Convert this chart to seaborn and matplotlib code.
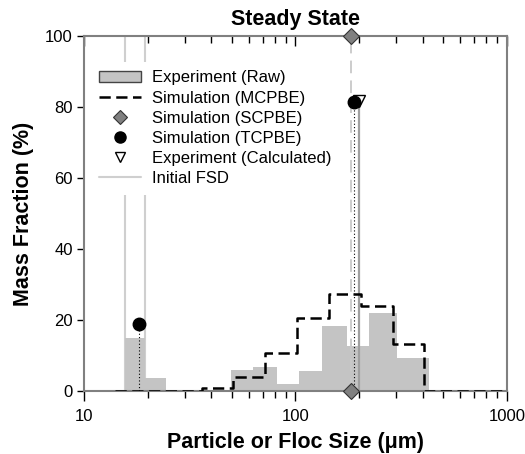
import numpy as np
import matplotlib
matplotlib.use('Agg')
import matplotlib.pyplot as plt
from matplotlib.patches import Patch
from matplotlib.lines import Line2D
import seaborn as sns

# Experiment (Raw) histogram: bin edges (um) and mass fraction (%)
raw_edges = [15.6, 19.4, 24.4, 30.8, 38.8, 49.4, 63.2, 81.5, 104, 134, 174.5, 223, 303, 429, 690]
raw_values = [14.9, 3.6, 0, 0, 0, 5.9, 6.7, 2.0, 5.6, 18.4, 12.7, 22.1, 9.4, 0.3]

# Simulation (MCPBE) step line
mc_edges = [14, 36, 50.9, 72, 101.8, 144, 203.6, 288, 407, 1000]
mc_values = [0.1, 0.9, 3.9, 10.8, 20.6, 27.2, 23.9, 13.2, 0.0]

# Simulation (SCPBE): single class
sc_size = [182]
sc_value = [100]

# Simulation (TCPBE): two classes
tc_size = [18.2, 189]
tc_value = [18.8, 81.5]

# Experiment (Calculated)
calc_size = [200]
calc_value = [81.7]

# Initial FSD: one bin
init_edges = [15.6, 19.4]
init_value = 100

sns.set_style('ticks')
plt.rcParams['font.family'] = ['Liberation Sans', 'DejaVu Sans']
plt.rcParams['text.color'] = 'black'
plt.rcParams['axes.labelcolor'] = 'black'
plt.rcParams['xtick.color'] = 'black'
plt.rcParams['ytick.color'] = 'black'

fig = plt.figure(figsize=(5.25, 4.54), dpi=100)
ax = fig.add_axes([0.16, 0.1388, 0.8057, 0.782])
ax.set_xscale('log')

# initial FSD outline
ax.vlines(init_edges, 0, init_value, color='#cfcfcf', lw=1.5, zorder=1)

# raw bars
left = np.array(raw_edges[:-1])
widths = np.diff(raw_edges)
ax.bar(left, raw_values, width=widths, align='edge', color='#c4c4c4',
       edgecolor='none', lw=0, zorder=2)

# stems
ax.vlines(sc_size, 0, sc_value, color='#c8c8c8', lw=1.3,
          linestyles=(0, (7, 4)), zorder=3)
ax.vlines(calc_size, 0, calc_value, color='#a0a0a0', lw=1.6, zorder=3)
ax.vlines(tc_size, 0, tc_value, color='black', lw=0.8,
          linestyles=(0, (1, 2)), zorder=3)

# MCPBE step line
sns.lineplot(x=mc_edges, y=mc_values + [mc_values[-1]], drawstyle='steps-post',
             color='black', lw=1.8, dashes=False, ax=ax, zorder=4,
             estimator=None, sort=False)
ax.lines[-1].set_linestyle((0, (4.5, 2.2)))

# markers
ax.plot(calc_size, calc_value, 'v', ms=8, mfc='white', mec='black', mew=1.0,
        zorder=5, clip_on=False)
ax.plot(tc_size, tc_value, 'o', ms=9, color='black', zorder=6, clip_on=False)
ax.plot(sc_size * 2, [0, sc_value[0]], 'D', ms=8, mfc='#808080', mec='#333333',
        mew=0.8, zorder=7, clip_on=False)

ax.set_xlim(10, 1000)
ax.set_ylim(0, 100)
ax.set_yticks([0, 20, 40, 60, 80, 100])
ax.set_xticks([10, 100, 1000])
ax.set_xticklabels(['10', '100', '1000'])

for s in ax.spines.values():
    s.set_color('#808080')
    s.set_linewidth(1.5)

ax.tick_params(axis='y', which='both', direction='out', length=5, width=1,
               labelsize=12, right=False, pad=3)
ax.tick_params(axis='x', which='major', direction='out', length=7, width=1,
               labelsize=12, pad=6)
ax.tick_params(axis='x', which='minor', direction='out', length=5, width=1)
# top ticks inward
sec = ax.secondary_xaxis('top')
sec.set_xticks([10, 100, 1000])
sec.tick_params(axis='x', which='major', direction='in', length=7, width=1,
                labeltop=False)
sec.tick_params(axis='x', which='minor', direction='in', length=5, width=1)
sec.spines['top'].set_visible(False)
sec.set_xticklabels([])

ax.set_title('Steady State', fontsize=15.5, fontweight='bold', pad=8)
ax.set_xlabel('Particle or Floc Size (μm)', fontsize=15.5, fontweight='bold', labelpad=6)
ax.set_ylabel('Mass Fraction (%)', fontsize=15.5, fontweight='bold', labelpad=8)

handles = [
    Patch(facecolor='#c4c4c4', edgecolor='#444444', lw=1),
    Line2D([], [], color='black', lw=1.8, ls=(0, (4.5, 2.2))),
    Line2D([], [], ls='none', marker='D', ms=7, mfc='#808080', mec='#333333', mew=0.8),
    Line2D([], [], ls='none', marker='o', ms=8, color='black'),
    Line2D([], [], ls='none', marker='v', ms=7, mfc='white', mec='black', mew=1.0),
    Line2D([], [], color='#cfcfcf', lw=1.5),
]
labels = ['Experiment (Raw)', 'Simulation (MCPBE)', 'Simulation (SCPBE)',
          'Simulation (TCPBE)', 'Experiment (Calculated)', 'Initial FSD']
leg = ax.legend(handles, labels, loc='upper left', bbox_to_anchor=(0.0, 0.945),
                fontsize=12, frameon=True, facecolor='white', edgecolor='none',
                framealpha=1, fancybox=False, handlelength=2.5, handletextpad=0.65,
                labelspacing=0.31, borderpad=0.5, borderaxespad=0.4)
leg.set_zorder(8)

fig.savefig('out.png', dpi=100)
